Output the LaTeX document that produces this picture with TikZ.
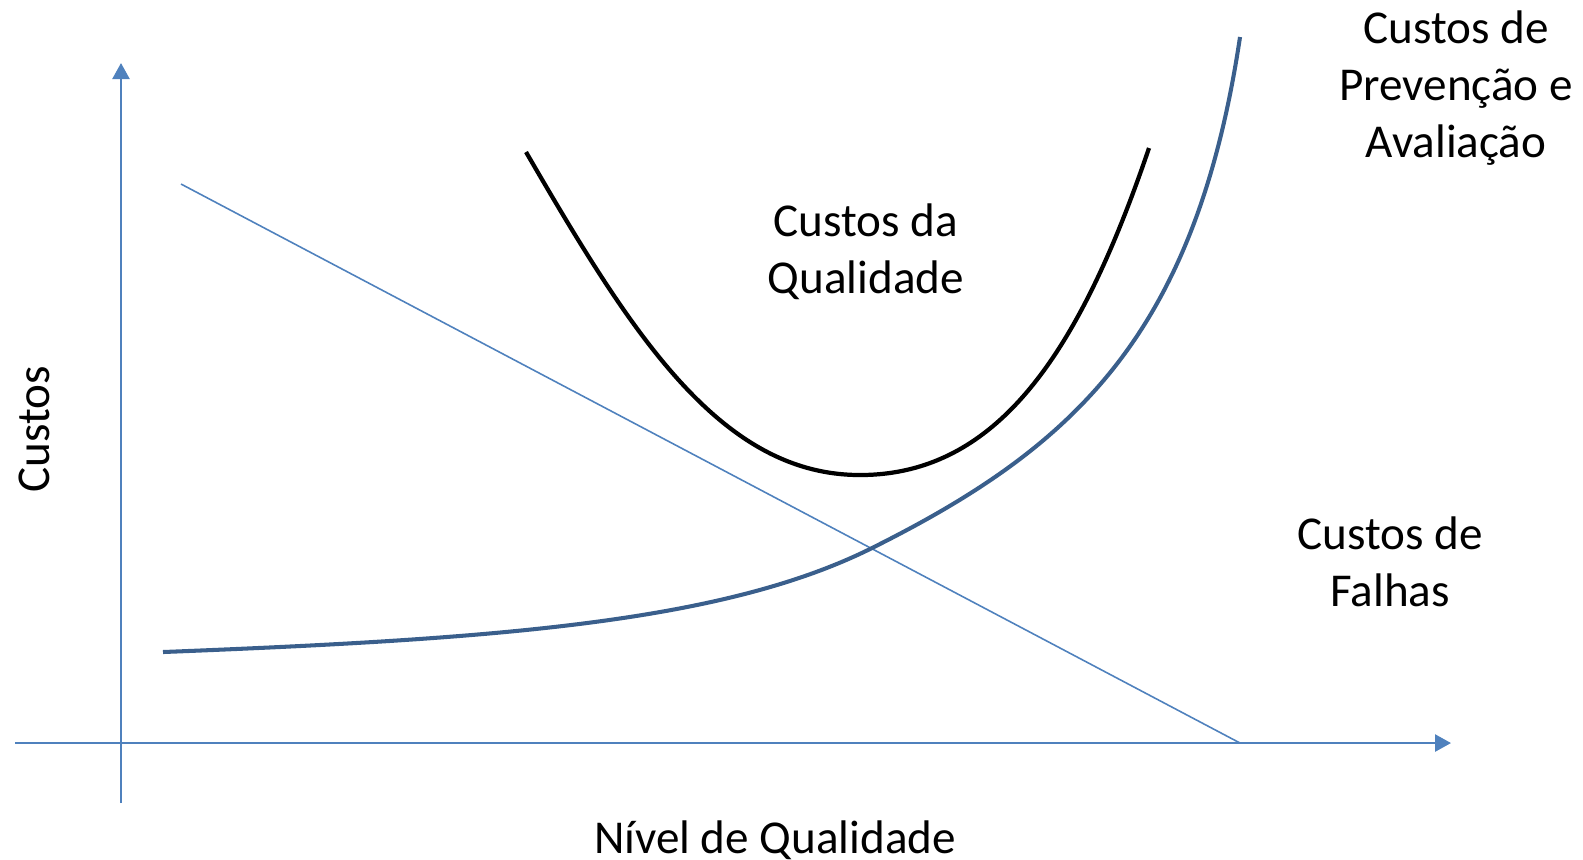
\documentclass[tikz,border=0pt]{standalone}
\usepackage{fontspec}
\setmainfont{Carlito}
\usetikzlibrary{arrows.meta}
\definecolor{axisblue}{HTML}{4F81BD}
\definecolor{curveblue}{HTML}{3A5F8C}
\tikzset{
  axis/.style={draw=axisblue, line width=0.7pt, -{Triangle[length=0.16cm,width=0.17cm]}},
  thinline/.style={draw=axisblue, line width=0.45pt},
  prevcurve/.style={draw=curveblue, line width=1.15pt},
  qualcurve/.style={draw=black, line width=1.2pt},
  lbl/.style={font=\fontsize{13.4}{16.1}\selectfont, align=center, inner sep=0pt}
}
\begin{document}
\begin{tikzpicture}[x=0.01cm, y=-0.01cm]
\useasboundingbox (0,0) rectangle (1583,859);
% axes
\coordinate (ybot) at (121,803);
\coordinate (ytop) at (121,63);
\coordinate (xleft) at (15,743);
\coordinate (xright) at (1451,743);
\draw[axis] (ybot) -- (ytop);
\draw[axis] (xleft) -- (xright);
% failure cost line
\coordinate (fstart) at (181,184);
\coordinate (fend) at (1240,743);
\draw[thinline] (fstart) -- (fend);
% prevention & appraisal curve
\coordinate (p0) at (163,652);
\coordinate (p1) at (872,548);
\coordinate (p2) at (1240,37);
\draw[prevcurve] (p0) .. controls (493,639) and (722,623) .. (p1)
                      .. controls (1072,448) and (1195,337) .. (p2);
% total quality cost curve
\coordinate (q0) at (526,152);
\coordinate (q1) at (860,475);
\coordinate (q2) at (1149,148);
\draw[qualcurve] (q0) .. controls (631,333) and (720,475) .. (q1)
                      .. controls (1000,475) and (1081,348) .. (q2);
% labels
\node[lbl] (prev) at (1456,88) {Custos de\\Prevenção e\\Avaliação};
\node[lbl] (qual) at (866,252) {Custos da\\Qualidade};
\node[lbl] (falhas) at (1390,562) {Custos de\\Falhas};
\node[lbl, rotate=90] (ylab) at (34,429) {Custos};
\node[lbl] (xlab) at (775,840) {Nível de Qualidade};
\end{tikzpicture}
\end{document}
